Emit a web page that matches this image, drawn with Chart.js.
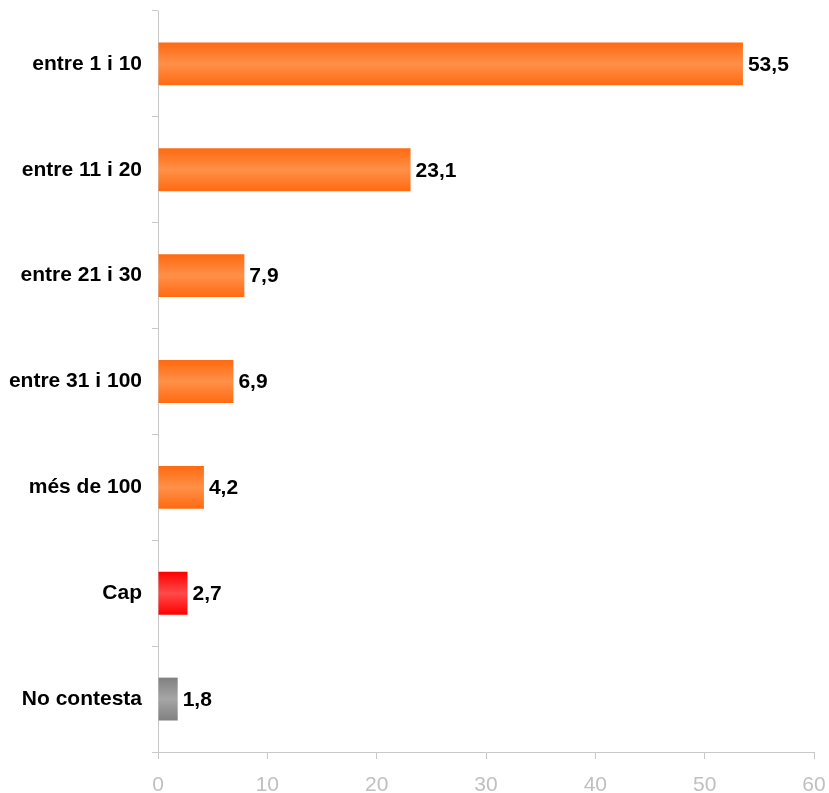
<!DOCTYPE html>
<html>
<head>
<meta charset="utf-8">
<script src="https://cdn.jsdelivr.net/npm/chart.js@4/dist/chart.umd.min.js"></script>
<style>
html,body{margin:0;padding:0;background:#fff;}
#wrap{width:829px;height:793px;position:relative;}
</style>
</head>
<body>
<div id="wrap"><canvas id="c" width="829" height="793"></canvas></div>
<script>
const categories = ["entre 1 i 10","entre 11 i 20","entre 21 i 30","entre 31 i 100","més de 100","Cap","No contesta"];
const values = [53.5, 23.1, 7.9, 6.9, 4.2, 2.7, 1.8];
const xTicks = [0,10,20,30,40,50,60];

const edgeColors = ["#ff6a10","#ff6a10","#ff6a10","#ff6a10","#ff6a10","#ff0000","#808080"];
const midColors  = ["#ff9048","#ff9048","#ff9048","#ff9048","#ff9048","#ff4a4a","#a6a6a6"];
const BAR_PCT = 0.405;

function barFill(ctx){
  const chart = ctx.chart;
  const i = ctx.dataIndex;
  const ys = chart.scales.y;
  if (!ys || i === undefined) return edgeColors[0];
  const cy = ys.getPixelForValue(i);
  const h = (ys.bottom - ys.top) / categories.length * BAR_PCT;
  if (!isFinite(cy) || !isFinite(h) || h <= 0) return edgeColors[i];
  const g = chart.ctx.createLinearGradient(0, cy - h/2, 0, cy + h/2);
  g.addColorStop(0, edgeColors[i]);
  g.addColorStop(0.5, midColors[i]);
  g.addColorStop(1, edgeColors[i]);
  return g;
}

const valueLabels = {
  id: 'valueLabels',
  afterDatasetsDraw(chart){
    const ctx = chart.ctx;
    const meta = chart.getDatasetMeta(0);
    ctx.save();
    ctx.font = 'bold 21px "Liberation Sans", Arial, sans-serif';
    ctx.fillStyle = '#000';
    ctx.textAlign = 'left';
    ctx.textBaseline = 'middle';
    meta.data.forEach((bar, i) => {
      ctx.fillText(values[i].toFixed(1).replace('.', ','), bar.x + 5, bar.y + 1);
    });
    ctx.restore();
  }
};

new Chart(document.getElementById('c'), {
  type: 'bar',
  data: {
    labels: categories,
    datasets: [{
      data: values,
      backgroundColor: barFill,
      borderWidth: 0,
      barPercentage: BAR_PCT,
      categoryPercentage: 1.0
    }]
  },
  options: {
    indexAxis: 'y',
    responsive: false,
    animation: false,
    devicePixelRatio: 1,
    layout: { padding: { left: 0, top: 11, right: 15, bottom: 0 } },
    plugins: { legend: { display: false }, tooltip: { enabled: false } },
    scales: {
      x: {
        min: 0, max: 60,
        afterBuildTicks(scale){ scale.ticks = xTicks.map(v => ({value: v})); },
        afterFit(scale){ scale.height = 41; scale.paddingLeft = 0; scale.paddingRight = 0; },
        border: { display: true, color: '#c8c8c8', width: 1 },
        grid: { display: true, drawOnChartArea: false, drawTicks: true, tickLength: 7, color: '#c8c8c8' },
        ticks: {
          color: '#c0c0c0',
          padding: 14,
          font: { family: '"Liberation Sans", Arial, sans-serif', size: 21 }
        }
      },
      y: {
        afterFit(scale){ scale.width = 158; scale.paddingTop = 0; scale.paddingBottom = 0; },
        border: { display: true, color: '#c8c8c8', width: 1 },
        grid: { display: true, drawOnChartArea: false, drawTicks: true, tickLength: 6, color: '#c8c8c8', offset: true },
        ticks: {
          color: '#000',
          padding: 10,
          font: { family: '"Liberation Sans", Arial, sans-serif', size: 21, weight: 'bold' }
        }
      }
    }
  },
  plugins: [valueLabels]
});
</script>
</body>
</html>
